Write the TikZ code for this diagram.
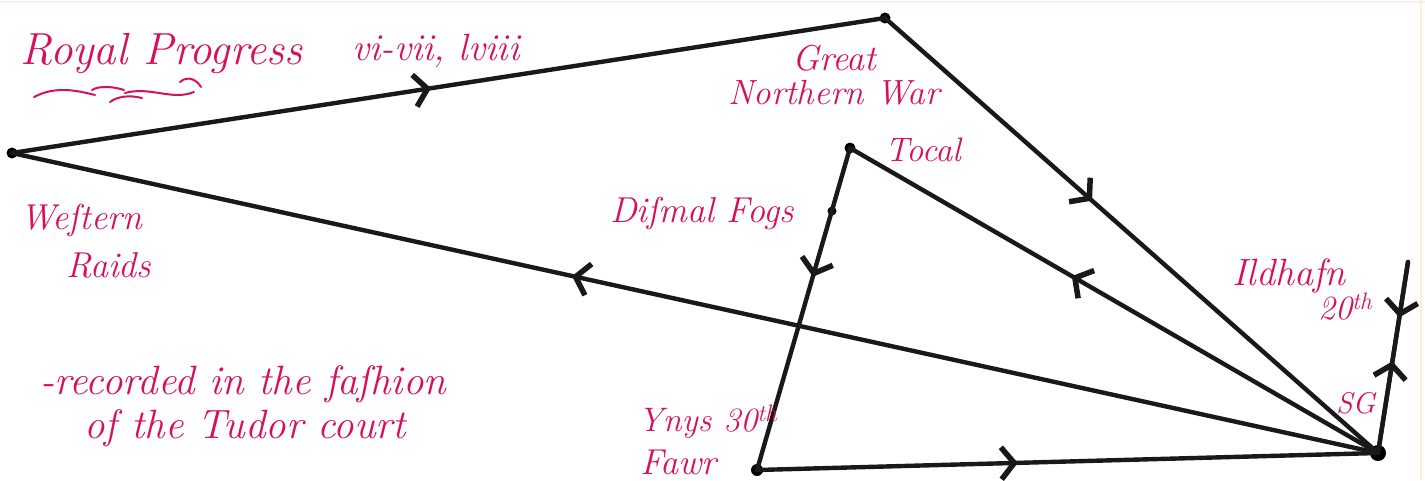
\documentclass[tikz,border=0pt]{standalone}
\usetikzlibrary{arrows.meta,decorations.markings}
\definecolor{ink}{RGB}{214,16,94}
\begin{document}
\begin{tikzpicture}[x=1pt,y=-1pt,
  route/.style={line width=4.4pt, black!90, line cap=round},
  mid/.style={postaction={decorate}, decoration={markings,
     mark=at position #1 with {\arrow{Straight Barb[length=13pt,width=32pt,line width=5.5pt]}}}},
  vtx/.style={circle, fill=black, inner sep=0pt, minimum size=11pt},
  lbl/.style={text=ink, inner sep=0pt, anchor=base west, font=\itshape\fontsize{#1}{#1}\selectfont},
  lbl/.default=34,
  flour/.style={ink, line width=2pt, line cap=round}]
\useasboundingbox (0,0) rectangle (1425,480);
\fill[white] (0,0) rectangle (1425,480);
\draw[red!8, line width=2pt] (0,2) -- (1425,2);
\draw[orange!15, line width=2pt] (1421,0) -- (1421,480);

% vertices
\node[vtx] (W) at (12,153) {};
\node[vtx] (G) at (885,18) {};
\node[vtx] (T) at (850,148) {};
\node[vtx, minimum size=9pt] (D) at (832,211) {};
\node[vtx, minimum size=12pt] (Y) at (757,470) {};
\node[vtx, minimum size=16pt] (S) at (1378,453) {};
\coordinate (I) at (1408,262);

% routes
\draw[route, mid=0.48] (W.center) -- (G.center);
\draw[route, mid=0.42] (G.center) -- (S.center);
\draw[route, mid=0.58] (S.center) -- (T.center);
\draw[route, mid=0.40] (T.center) -- (Y.center);
\draw[route, mid=0.42] (Y.center) -- (S.center);
\draw[route, mid=0.59] (S.center) -- (W.center);
\draw[route, mid=0.29] (I) -- (S.center);
\draw[route, mid=0.48] (S.center) -- (I);

% labels
\node[lbl=45] (lrp) at (20,64) {Royal Progress};
\node[lbl=38] (lnum) at (352,60) {vi-vii, lviii};
\node[lbl=36] (lgr) at (792,70) {Great};
\node[lbl=35] (lnw) at (728,104) {Northern War};
\node[lbl=34] (ltoc) at (885,161) {Tocal};
\node[lbl=36] (ldf) at (610,222) {Diſmal Fogs};
\node[lbl=36] (lwe) at (20,229) {Weſtern};
\node[lbl=36] (lra) at (66,277) {Raids};
\node[lbl=38] (lil) at (1232,285) {Ildhafn};
\node[lbl=34] (l20) at (1318,319) {20\textsuperscript{th}};
\node[lbl=30] (lsg) at (1336,413) {SG};
\node[lbl=34] (lyn) at (638,431) {Ynys 30\textsuperscript{th}};
\node[lbl=36] (lfa) at (640,474) {Fawr};
\node[lbl=41] (lrec) at (40,394) {-recorded in the faſhion};
\node[lbl=41] (lof) at (84,438) {of the Tudor court};

% flourish under Royal Progress
\draw[flour] (34,97) .. controls (55,86) and (75,90) .. (95,95);
\draw[flour] (92,90) .. controls (100,85) and (115,87) .. (124,90);
\draw[flour] (110,102) .. controls (118,96) and (130,95) .. (142,98);
\draw[flour] (125,93) .. controls (150,86) and (172,101) .. (194,92);
\draw[flour] (180,82) .. controls (188,75) and (197,80) .. (201,87);
\end{tikzpicture}
\end{document}
